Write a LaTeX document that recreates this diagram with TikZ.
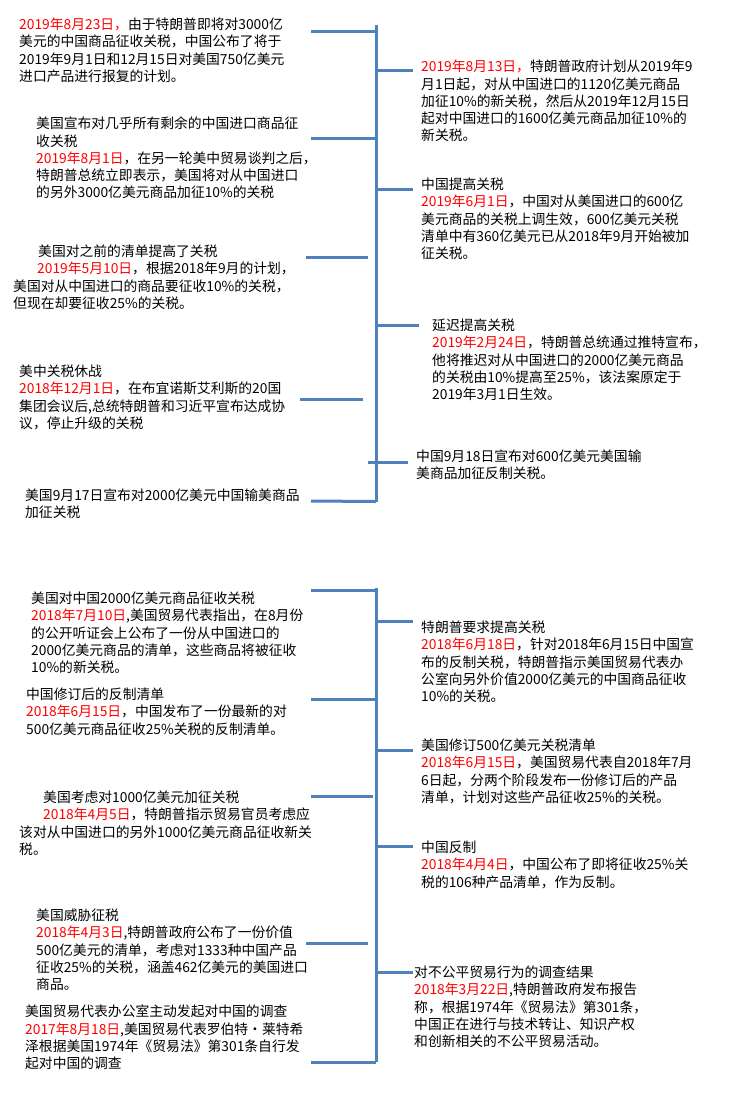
\documentclass[tikz,border=0pt]{standalone}
\usepackage{fontspec}
\setmainfont{Noto Sans CJK SC}
\usepackage{xcolor}
\definecolor{lineblue}{RGB}{79,129,189}
\definecolor{datered}{RGB}{255,0,0}
\newcommand{\dt}[1]{\textcolor{datered}{#1}}
\newcommand{\ind}{\hspace*{24pt}}
\begin{document}
\begin{tikzpicture}[x=1pt,y=-1pt,
  spine/.style={line width=3pt, draw=lineblue},
  branch/.style={line width=3pt, draw=lineblue},
  evt/.style={anchor=north west, inner sep=0pt, align=left, font=\fontsize{13.8}{17.1}\selectfont, text=black}]
\useasboundingbox[fill=white] (0,0) rectangle (751,1101);

% ---------------- top timeline ----------------
\coordinate (t0) at (376,25);
\coordinate (t1) at (376,501.5);
\draw[spine] (t0) -- (t1);

\coordinate (tl1a) at (311,31);  \coordinate (tl1b) at (376,31);
\coordinate (tl2a) at (311,138); \coordinate (tl2b) at (376,138);
\coordinate (tl3a) at (306,257); \coordinate (tl3b) at (368,257);
\coordinate (tl4a) at (300,399); \coordinate (tl4b) at (363,399);
\coordinate (tl5a) at (311,501); 
\coordinate (tr1a) at (376,70);  \coordinate (tr1b) at (413,70);
\coordinate (tr2a) at (376,189); \coordinate (tr2b) at (413,189);
\coordinate (tr3a) at (376,325); \coordinate (tr3b) at (419,325);
\coordinate (tr4a) at (368,462); \coordinate (tr4b) at (408,462);

\draw[branch] (tl1a) -- (tl1b);
\draw[branch] (tl2a) -- (tl2b);
\draw[branch] (tl3a) -- (tl3b);
\draw[branch] (tl4a) -- (tl4b);
\draw[branch] (tl5a) -- (t1);
\draw[branch] (tr1a) -- (tr1b);
\draw[branch] (tr2a) -- (tr2b);
\draw[branch] (tr3a) -- (tr3b);
\draw[branch] (tr4a) -- (tr4b);

% ---------------- bottom timeline ----------------
\coordinate (b0) at (376,588);
\coordinate (b1) at (376,1062);
\draw[spine] (b0) -- (b1);

\coordinate (bl1a) at (311,590);  \coordinate (bl1b) at (376,590);
\coordinate (bl2a) at (311,699);  \coordinate (bl2b) at (376,699);
\coordinate (bl3a) at (311,796);  \coordinate (bl3b) at (373,796);
\coordinate (bl4a) at (306,943);  \coordinate (bl4b) at (368,943);
\coordinate (bl5a) at (311,1062);
\coordinate (br1a) at (376,621);  \coordinate (br1b) at (413,621);
\coordinate (br2a) at (376,750);  \coordinate (br2b) at (413,750);
\coordinate (br3a) at (376,846);  \coordinate (br3b) at (413,846);
\coordinate (br4a) at (376,972);  \coordinate (br4b) at (413,972);

\draw[branch] (bl1a) -- (bl1b);
\draw[branch] (bl2a) -- (bl2b);
\draw[branch] (bl3a) -- (bl3b);
\draw[branch] (bl4a) -- (bl4b);
\draw[branch] (bl5a) -- (b1);
\draw[branch] (br1a) -- (br1b);
\draw[branch] (br2a) -- (br2b);
\draw[branch] (br3a) -- (br3b);
\draw[branch] (br4a) -- (br4b);

% ---------------- top texts ----------------
\node[evt] (L1) at (19,18) {\dt{2019年8月23日，}由于特朗普即将对3000亿\\
美元的中国商品征收关税，中国公布了将于\\
2019年9月1日和12月15日对美国750亿美元\\
进口产品进行报复的计划。};

\node[evt] (L2) at (36,117) {美国宣布对几乎所有剩余的中国进口商品征\\
收关税\\
\dt{2019年8月1日}，在另一轮美中贸易谈判之后，\\
特朗普总统立即表示，美国将对从中国进口\\
的另外3000亿美元商品加征10\%的关税};

\node[evt] (L3) at (13,245) {\hspace*{25pt}美国对之前的清单提高了关税\\
\ind\dt{2019年5月10日}，根据2018年9月的计划，\\
美国对从中国进口的商品要征收10\%的关税，\\
但现在却要征收25\%的关税。};

\node[evt] (L4) at (19,365) {美中关税休战\\
\dt{2018年12月1日}，在布宜诺斯艾利斯的20国\\
集团会议后,总统特朗普和习近平宣布达成协\\
议，停止升级的关税};

\node[evt] (L5) at (25,489) {美国9月17日宣布对2000亿美元中国输美商品\\
加征关税};

\node[evt] (R1) at (421,60) {\dt{2019年8月13日，}特朗普政府计划从2019年9\\
月1日起，对从中国进口的1120亿美元商品\\
加征10\%的新关税，然后从2019年12月15日\\
起对中国进口的1600亿美元商品加征10\%的\\
新关税。};

\node[evt] (R2) at (421,178) {中国提高关税\\
\dt{2019年6月1日}，中国对从美国进口的600亿\\
美元商品的关税上调生效，600亿美元关税\\
清单中有360亿美元已从2018年9月开始被加\\
征关税。};

\node[evt] (R3) at (432,319) {延迟提高关税\\
\dt{2019年2月24日}，特朗普总统通过推特宣布，\\
他将推迟对从中国进口的2000亿美元商品\\
的关税由10\%提高至25\%，该法案原定于\\
2019年3月1日生效。};

\node[evt] (R4) at (416,450) {中国9月18日宣布对600亿美元美国输\\
美商品加征反制关税。};

% ---------------- bottom texts ----------------
\node[evt] (B1) at (31,592) {美国对中国2000亿美元商品征收关税\\
\dt{2018年7月10日},美国贸易代表指出，在8月份\\
的公开听证会上公布了一份从中国进口的\\
2000亿美元商品的清单，这些商品将被征收\\
10\%的新关税。};

\node[evt] (B2) at (26,688) {中国修订后的反制清单\\
\dt{2018年6月15日}，中国发布了一份最新的对\\
500亿美元商品征收25\%关税的反制清单。};

\node[evt] (B3) at (19,791) {\ind 美国考虑对1000亿美元加征关税\\
\ind\dt{2018年4月5日}，特朗普指示贸易官员考虑应\\
该对从中国进口的另外1000亿美元商品征收新关\\
税。};

\node[evt] (B4) at (36,909) {美国威胁征税\\
\dt{2018年4月3日},特朗普政府公布了一份价值\\
500亿美元的清单，考虑对1333种中国产品\\
征收25\%的关税，涵盖462亿美元的美国进口\\
商品。};

\node[evt] (B5) at (25,1005) {美国贸易代表办公室主动发起对中国的调查\\
\dt{2017年8月18日},美国贸易代表罗伯特•莱特希\\
泽根据美国1974年《贸易法》第301条自行发\\
起对中国的调查};

\node[evt] (C1) at (421,621) {特朗普要求提高关税\\
\dt{2018年6月18日}，针对2018年6月15日中国宣\\
布的反制关税，特朗普指示美国贸易代表办\\
公室向另外价值2000亿美元的中国商品征收\\
10\%的关税。};

\node[evt] (C2) at (421,739) {美国修订500亿美元关税清单\\
\dt{2018年6月15日}，美国贸易代表自2018年7月\\
6日起，分两个阶段发布一份修订后的产品\\
清单，计划对这些产品征收25\%的关税。};

\node[evt] (C3) at (421,841) {中国反制\\
\dt{2018年4月4日}，中国公布了即将征收25\%关\\
税的106种产品清单，作为反制。};

\node[evt] (C4) at (414,966) {对不公平贸易行为的调查结果\\
\dt{2018年3月22日},特朗普政府发布报告\\
称，根据1974年《贸易法》第301条，\\
中国正在进行与技术转让、知识产权\\
和创新相关的不公平贸易活动。};
\end{tikzpicture}
\end{document}
